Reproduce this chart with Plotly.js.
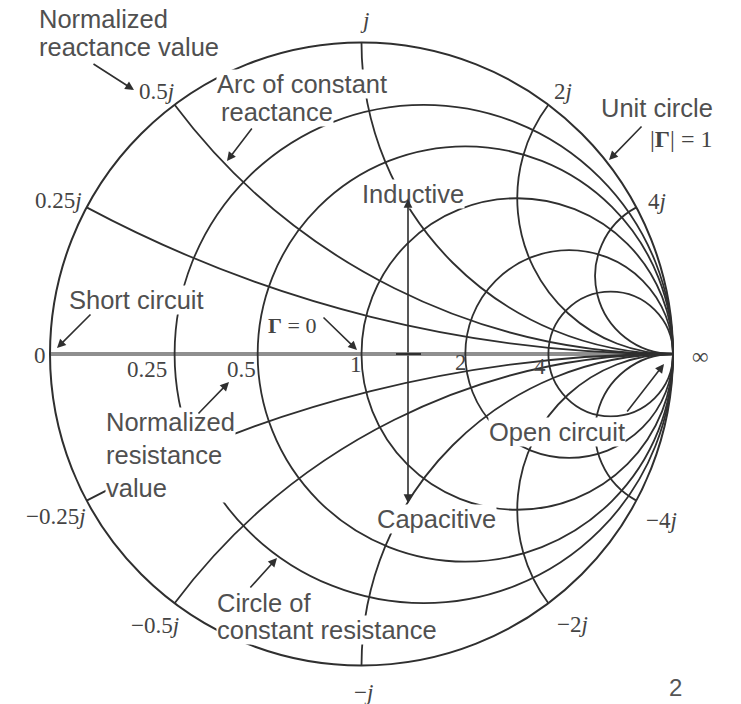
<!DOCTYPE html>
<html><head><meta charset="utf-8">
<script src="https://cdn.plot.ly/plotly-3.0.1.min.js"></script>
<style>html,body{margin:0;padding:0;background:#fff}#chart{width:741px;height:704px}</style>
</head><body><div id="chart"></div>
<script>
// ---- data: normalized resistance circles and reactance arcs ----
const resistanceValues = [0.25, 0.5, 1, 2, 4];
const resistanceLabels = ['0.25', '0.5', '1', '2', '4'];
const reactanceValues = [0.25, 0.5, 1, 2, 4, -0.25, -0.5, -1, -2, -4];
const reactanceLabels = ['0.25<i>j</i>', '0.5<i>j</i>', '<i>j</i>', '2<i>j</i>', '4<i>j</i>',
                         '−0.25<i>j</i>', '−0.5<i>j</i>', '−<i>j</i>', '−2<i>j</i>', '−4<i>j</i>'];
// reflection coefficient of key points: short circuit, matched (Γ = 0), open circuit
const gammaKeyReal = [-1, 0, 1];
const gammaKeyImag = [0, 0, 0];

// ---- layout helpers ----
const W = 741, H = 704;
const CX = 361.5, CY = 354, RAD = 311.5;   // unit circle placement (pixels)
function px(x){return x / W;}
function py(y){return 1 - y / H;}

const SANS = 'Liberation Sans, Arial, sans-serif';
const SERIF = 'Liberation Serif, Times New Roman, serif';
const TXT = '#505050';
const SERIFTXT = '#444444';
const LINE = '#2f2f2f';
const GRIDW = 1.8;

// pixel centres of the tick labels (layout only)
const resistanceLabelPos = [[147, 369], [242, 369], [356, 364], [461, 362], [540, 366]];
const reactanceLabelPos = [[58, 200], [156, 92], [364, 21], [563, 91], [657, 202],
                           [56, 516], [155, 625], [363, 692], [572, 624], [661, 520]];

// Smith mapping for the arcs (Γ plane drawn on hidden cartesian axes)
function f(v){return v.toFixed(5);}
function reactanceArcPath(x){
  const ax = Math.abs(x), s = x < 0 ? -1 : 1;
  const R = 1 / ax, cx = 1, cy = R;
  const gx = (ax * ax - 1) / (ax * ax + 1), gy = 2 * ax / (ax * ax + 1);
  let a0 = Math.atan2(gy - cy, gx - cx); if (a0 < 0) a0 += 2 * Math.PI;
  const a1 = 1.5 * Math.PI;
  const n = Math.max(1, Math.ceil((a1 - a0) / (Math.PI / 4)));
  const step = (a1 - a0) / n;
  const k = 4 / 3 * Math.tan(step / 4);
  let t = a0;
  let p = 'M' + f(cx + R * Math.cos(t)) + ',' + f(s * (cy + R * Math.sin(t)));
  for (let i = 0; i < n; i++){
    const t1 = t + step;
    const x0 = cx + R * Math.cos(t), y0 = cy + R * Math.sin(t);
    const x3 = cx + R * Math.cos(t1), y3 = cy + R * Math.sin(t1);
    const x1 = x0 - k * R * Math.sin(t), y1 = y0 + k * R * Math.cos(t);
    const x2 = x3 + k * R * Math.sin(t1), y2 = y3 - k * R * Math.cos(t1);
    p += 'C' + f(x1) + ',' + f(s * y1) + ' ' + f(x2) + ',' + f(s * y2) + ' ' + f(x3) + ',' + f(s * y3);
    t = t1;
  }
  return p;
}

const shapes = [];
// real axis
shapes.push({type: 'line', xref: 'x', yref: 'y', x0: -1, x1: 1, y0: 0, y1: 0,
             line: {color: '#8f8f8f', width: 4}, layer: 'below'});
// constant-resistance circles
resistanceValues.forEach(function(r){
  shapes.push({type: 'circle', xref: 'x', yref: 'y',
               x0: (r - 1) / (r + 1), x1: 1, y0: -1 / (r + 1), y1: 1 / (r + 1),
               line: {color: LINE, width: GRIDW}, layer: 'below'});
});
// constant-reactance arcs
reactanceValues.forEach(function(x){
  shapes.push({type: 'path', xref: 'x', yref: 'y', path: reactanceArcPath(x),
               line: {color: LINE, width: GRIDW}, layer: 'below'});
});
// unit circle |Γ| = 1
shapes.push({type: 'circle', xref: 'x', yref: 'y', x0: -1, x1: 1, y0: -1, y1: 1,
             line: {color: LINE, width: 2}, layer: 'below'});
// small cross mark on the real axis
shapes.push({type: 'line', xref: 'paper', yref: 'paper', x0: px(396), x1: px(421), y0: py(354), y1: py(354),
             line: {color: LINE, width: 2}});

function label(text, x, y, opts){
  return Object.assign({
    text: text, x: px(x), y: py(y), xref: 'paper', yref: 'paper',
    showarrow: false, xanchor: 'left', yanchor: 'middle', align: 'left',
    font: {family: SANS, size: 25.5, color: TXT},
    bgcolor: '#ffffff', borderpad: 0
  }, opts || {});
}
function tick(text, pos){
  return {
    text: text, x: px(pos[0]), y: py(pos[1]), xref: 'paper', yref: 'paper',
    showarrow: false, xanchor: 'center', yanchor: 'middle',
    font: {family: SERIF, size: 23, color: SERIFTXT}
  };
}
function arrow(x0, y0, x1, y1){
  return {
    text: '', x: px(x1), y: py(y1), xref: 'paper', yref: 'paper',
    showarrow: true, ax: x0 - x1, ay: y0 - y1,
    arrowhead: 2, arrowsize: 1.1, arrowwidth: 1.6, arrowcolor: LINE, standoff: 0
  };
}

const annotations = [
  label('Normalized', 38, 19),
  label('reactance value', 38, 47),
  arrow(92, 63, 134, 90),
  label('Arc of constant', 216, 84),
  label('reactance', 220, 112),
  arrow(253, 127, 227, 161),
  label('Unit circle', 600, 108),
  label('|<b>Γ</b>| = 1', 649, 139, {font: {family: SERIF, size: 24, color: SERIFTXT}, bgcolor: 'rgba(0,0,0,0)'}),
  arrow(643, 125, 609, 160),
  label('Inductive', 361, 194),
  label('Short circuit', 68, 300),
  arrow(92, 313, 57, 348),
  label('<b>Γ</b> = 0', 267, 325, {font: {family: SERIF, size: 22, color: SERIFTXT}}),
  arrow(322, 316, 357, 350),
  label('Normalized<br>resistance<br>value', 105, 455, {font: {family: SANS, size: 25.5, color: TXT}}),
  arrow(197, 415, 229, 382),
  label('Open circuit', 488, 432),
  arrow(626, 413, 664, 364),
  label('Capacitive', 376, 519),
  label('Circle of', 216, 603),
  label('constant resistance', 216, 630),
  arrow(249, 589, 277, 558),
  // inductive / capacitive double arrow
  arrow(408, 354, 408, 199),
  arrow(408, 354, 408, 503),
  // end points of the real axis
  tick('0', [40, 355]),
  tick('∞', [700, 356]),
  // page number
  {text: '2', x: px(667), y: py(703), xref: 'paper', yref: 'paper', showarrow: false,
   xanchor: 'left', yanchor: 'bottom', font: {family: SANS, size: 24, color: '#555555'}}
];
resistanceLabels.forEach(function(t, i){ annotations.push(tick(t, resistanceLabelPos[i])); });
reactanceLabels.forEach(function(t, i){ annotations.push(tick(t, reactanceLabelPos[i])); });

const data = [{
  type: 'scatter',
  x: gammaKeyReal,
  y: gammaKeyImag,
  mode: 'markers',
  marker: {size: 1, color: 'rgba(0,0,0,0)'},
  hoverinfo: 'skip',
  showlegend: false
}];

const layout = {
  width: W, height: H,
  margin: {l: 0, r: 0, t: 0, b: 0},
  paper_bgcolor: '#ffffff',
  plot_bgcolor: '#ffffff',
  showlegend: false,
  xaxis: {visible: false, range: [-CX / RAD, (W - CX) / RAD], fixedrange: true},
  yaxis: {visible: false, range: [-(H - CY) / RAD, CY / RAD], fixedrange: true},
  shapes: shapes,
  annotations: annotations
};

Plotly.newPlot('chart', data, layout, {displayModeBar: false, staticPlot: true});
</script>
</body></html>
